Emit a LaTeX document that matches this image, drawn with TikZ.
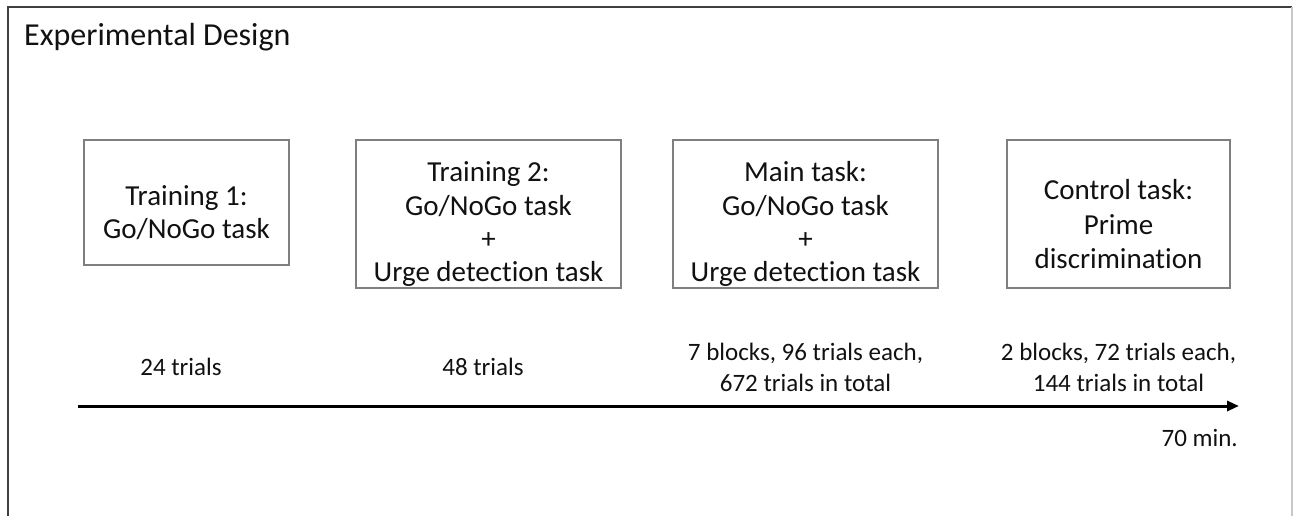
\documentclass[tikz,border=0pt]{standalone}
\usepackage{fontspec}
\setmainfont{Carlito}[Ligatures=NoCommon]
\usetikzlibrary{arrows.meta}
\definecolor{boxgray}{HTML}{7F7F7F}
\definecolor{framedark}{HTML}{404040}
\definecolor{framelight}{HTML}{C8C8C8}
\definecolor{ink}{HTML}{111111}
\tikzset{
  taskbox/.style={draw=boxgray, line width=1.5pt, inner sep=0pt, outer sep=0pt, fill=none},
  boxtext/.style={anchor=base, inner sep=0pt, text=ink, font=\fontsize{29}{34}\selectfont},
  labeltext/.style={anchor=base, inner sep=0pt, text=ink, font=\fontsize{25}{30}\selectfont},
  timeline/.style={line width=3pt, -{Triangle[length=12pt,width=10pt]}, draw=black},
}
\begin{document}
\begin{tikzpicture}[x=1pt,y=-1pt]
\useasboundingbox (0,0) rectangle (1294,516);
% frame
\draw[framedark, line width=2pt] (8,530) -- (8,7) -- (1292,7);
\draw[framelight, line width=2pt] (1292,7) -- (1292,530);
% title
\node[anchor=base west, inner sep=0pt, text=ink, font=\fontsize{32}{38}\selectfont] (title) at (24,46) {Experimental Design};
% boxes
\node[taskbox, minimum width=205pt, minimum height=125pt] (b1) at (186.5,202.5) {};
\node[taskbox, minimum width=265pt, minimum height=148pt] (b2) at (488.5,214) {};
\node[taskbox, minimum width=265pt, minimum height=148pt] (b3) at (805.5,214) {};
\node[taskbox, minimum width=223pt, minimum height=148pt] (b4) at (1118.5,214) {};
% box texts
\node[boxtext] (t1a) at (186.5,205) {Training 1:};
\node[boxtext] (t1b) at (186.5,238) {Go/NoGo task};
\node[boxtext] (t2a) at (488.5,182) {Training 2:};
\node[boxtext] (t2b) at (488.5,215) {Go/NoGo task};
\node[boxtext] (t2c) at (488.5,248) {+};
\node[boxtext] (t2d) at (488.5,281) {Urge detection task};
\node[boxtext] (t3a) at (805.5,182) {Main task:};
\node[boxtext] (t3b) at (805.5,215) {Go/NoGo task};
\node[boxtext] (t3c) at (805.5,248) {+};
\node[boxtext] (t3d) at (805.5,281) {Urge detection task};
\node[boxtext] (t4a) at (1118.5,200) {Control task:};
\node[boxtext] (t4b) at (1118.5,234) {Prime};
\node[boxtext] (t4c) at (1118.5,268) {discrimination};
% labels
\node[labeltext] (l1) at (181,375) {24 trials};
\node[labeltext] (l2) at (483,375) {48 trials};
\node[labeltext] (l3a) at (805.5,360) {7 blocks, 96 trials each,};
\node[labeltext] (l3b) at (805.5,391) {672 trials in total};
\node[labeltext] (l4a) at (1118.5,360) {2 blocks, 72 trials each,};
\node[labeltext] (l4b) at (1118.5,391) {144 trials in total};
% timeline
\coordinate (tstart) at (78,406);
\coordinate (tend) at (1239,406);
\draw[timeline] (tstart) -- (tend);
\node[labeltext, anchor=base east] (dur) at (1238,446) {70 min.};
\end{tikzpicture}
\end{document}
